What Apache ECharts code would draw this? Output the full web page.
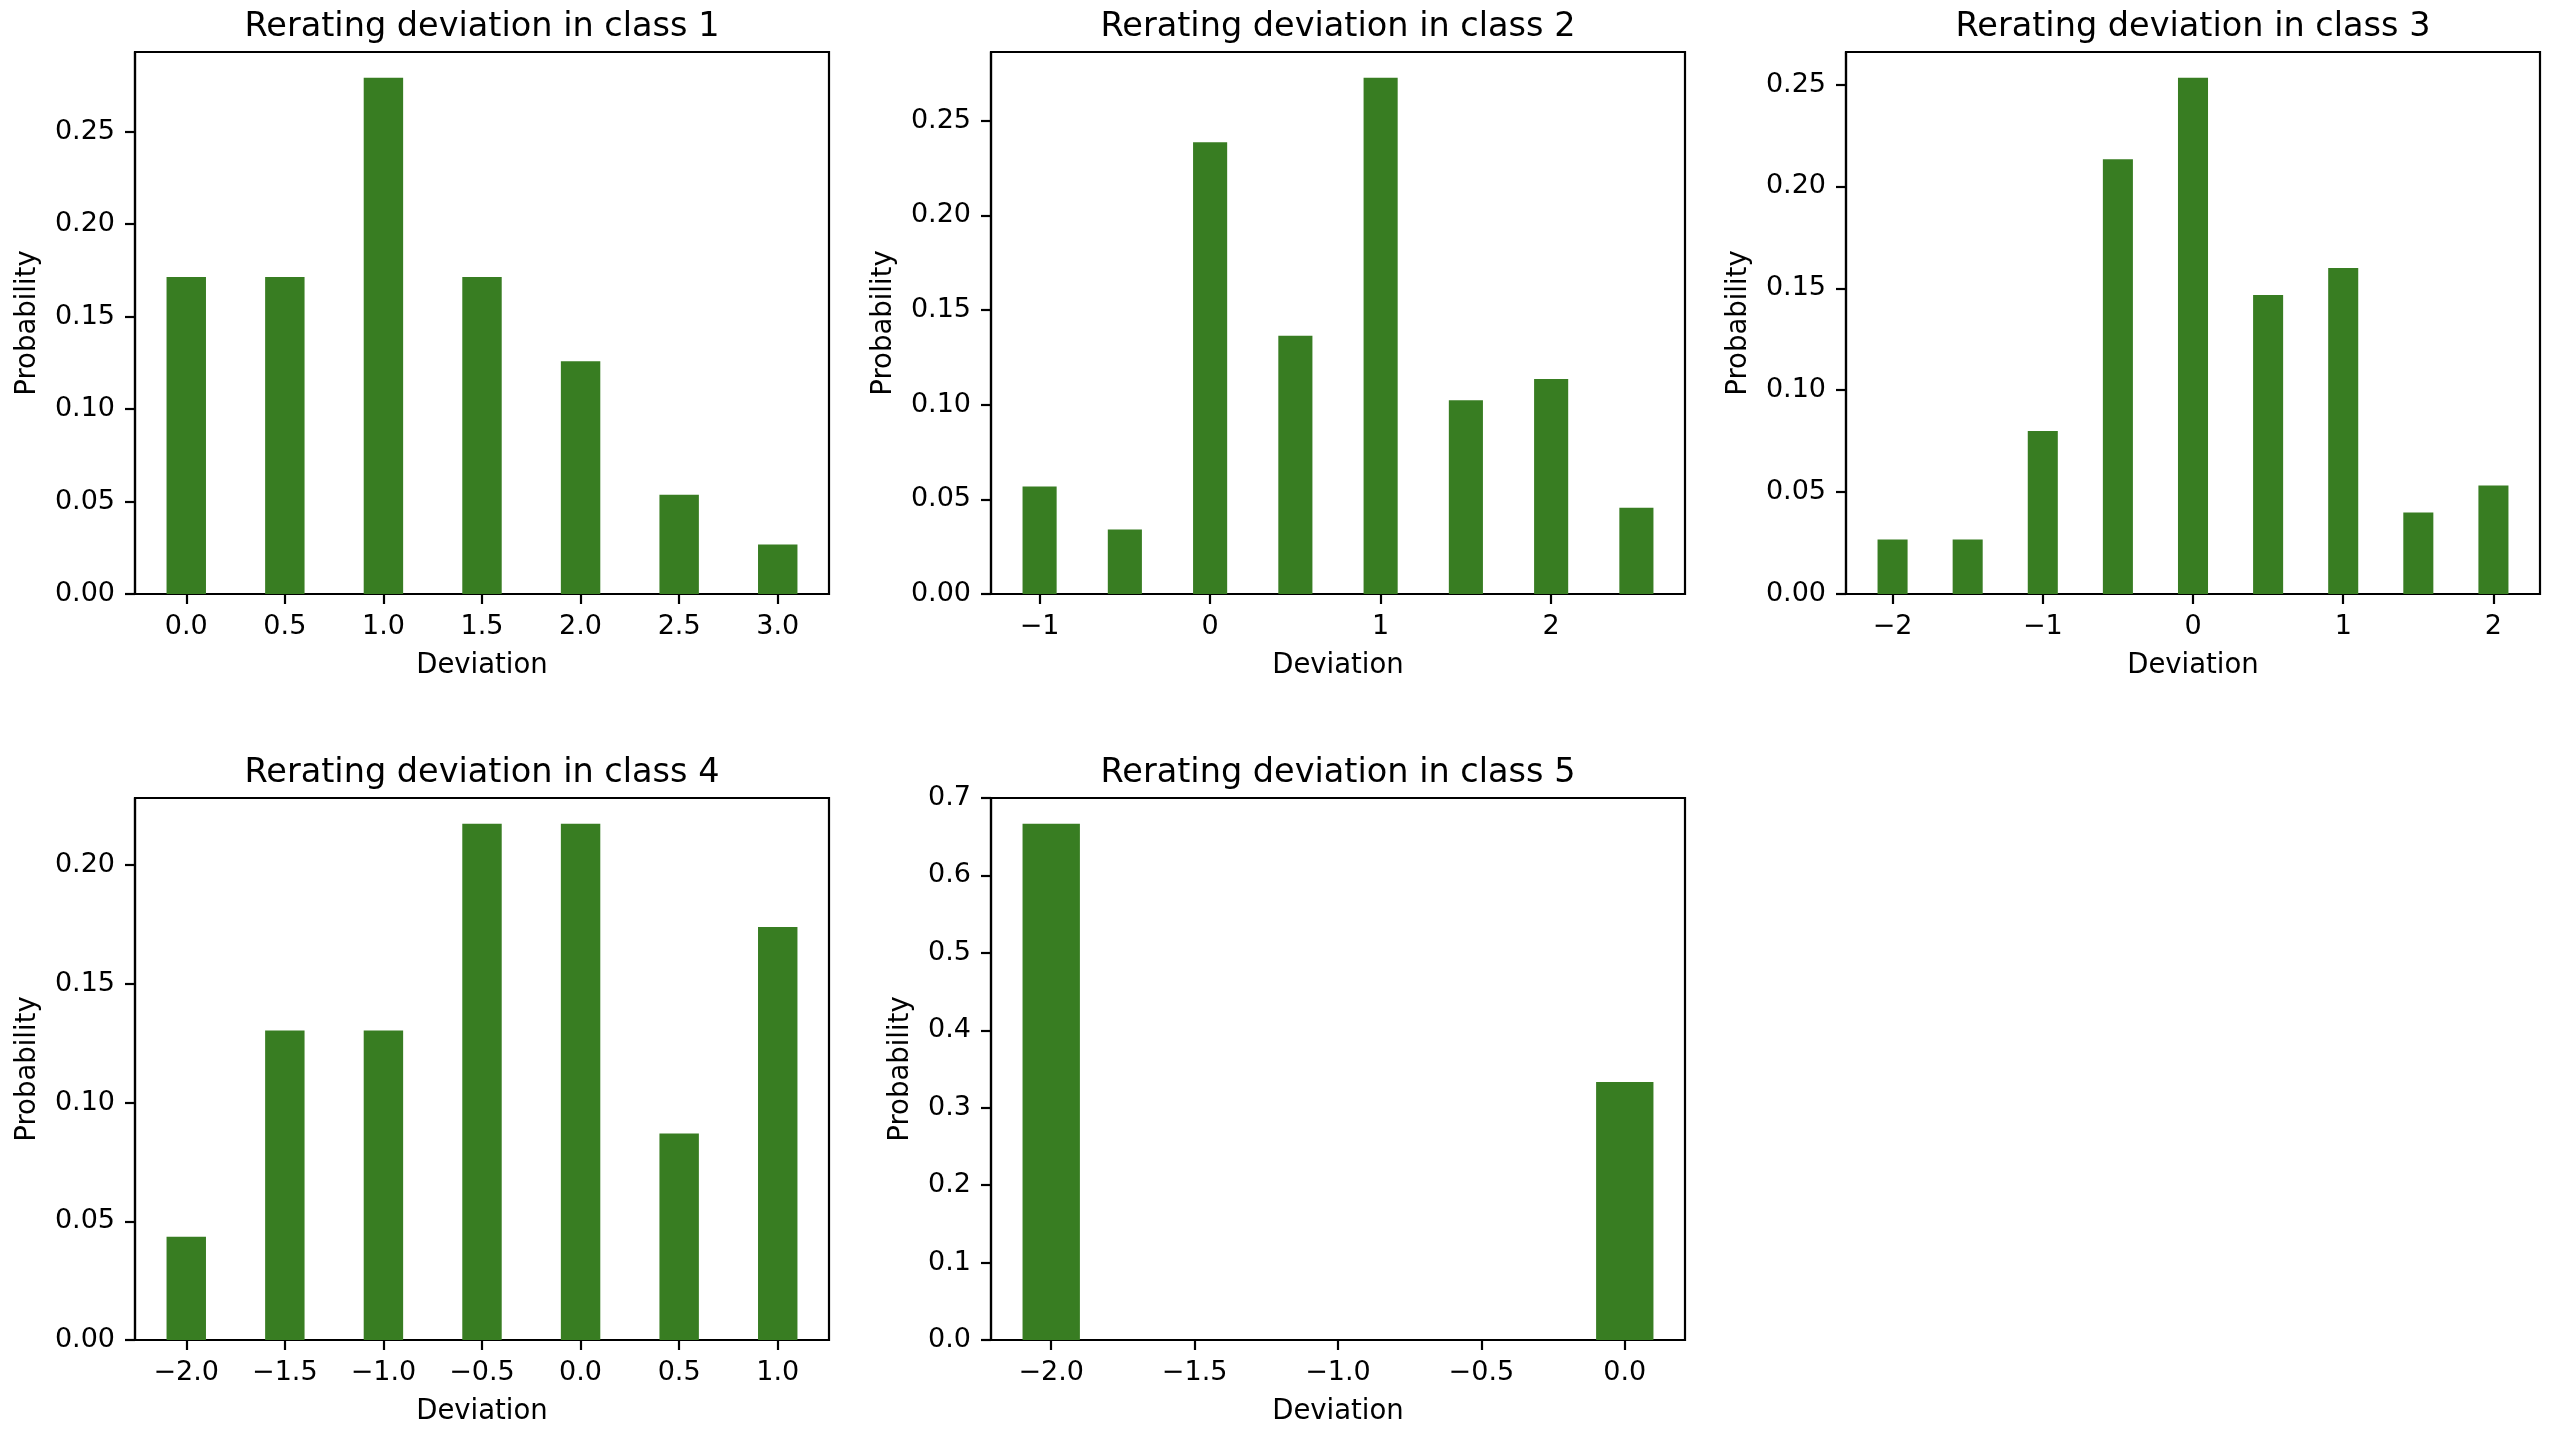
<!DOCTYPE html>
<html>
<head>
<meta charset="utf-8">
<title>Rerating deviation</title>
<script src="https://cdn.jsdelivr.net/npm/echarts@6.0.0/dist/echarts.min.js"></script>
<style>
  html, body { margin: 0; padding: 0; background: #fff; }
  #chart { width: 2560px; height: 1438px; }
</style>
</head>
<body>
<div id="chart"></div>
<script>
// --- data ---
const titles = [
  'Rerating deviation in class 1',
  'Rerating deviation in class 2',
  'Rerating deviation in class 3',
  'Rerating deviation in class 4',
  'Rerating deviation in class 5'
];

const devs1 = [0, 0.5, 1, 1.5, 2, 2.5, 3];
const prob1 = [0.1714, 0.1714, 0.2792, 0.1714, 0.1259, 0.0537, 0.0268];

const devs2 = [-1, -0.5, 0, 0.5, 1, 1.5, 2, 2.5];
const prob2 = [0.0568, 0.0341, 0.2386, 0.1364, 0.2727, 0.1023, 0.1136, 0.0455];

const devs3 = [-2, -1.5, -1, -0.5, 0, 0.5, 1, 1.5, 2];
const prob3 = [0.0267, 0.0267, 0.0800, 0.2133, 0.2533, 0.1467, 0.1600, 0.0400, 0.0533];

const devs4 = [-2, -1.5, -1, -0.5, 0, 0.5, 1];
const prob4 = [0.0435, 0.1304, 0.1304, 0.2174, 0.2174, 0.0870, 0.1739];

const devs5 = [-2, 0];
const prob5 = [0.6667, 0.3333];

// tick labels
const xTicks1 = [0, 0.5, 1, 1.5, 2, 2.5, 3];
const xTicks2 = [-1, 0, 1, 2];
const xTicks3 = [-2, -1, 0, 1, 2];
const xTicks4 = [-2, -1.5, -1, -0.5, 0, 0.5, 1];
const xTicks5 = [-2, -1.5, -1, -0.5, 0];
const yTicks1 = [0, 0.05, 0.10, 0.15, 0.20, 0.25];
const yTicks2 = [0, 0.05, 0.10, 0.15, 0.20, 0.25];
const yTicks3 = [0, 0.05, 0.10, 0.15, 0.20, 0.25];
const yTicks4 = [0, 0.05, 0.10, 0.15, 0.20];
const yTicks5 = [0, 0.1, 0.2, 0.3, 0.4, 0.5, 0.6, 0.7];

// --- styling / layout ---
const BAR_COLOR = '#387d22';
const BAR_W = 0.2;
const FONT = 'DejaVu Sans';
const LINE_W = 2.2;
const GRID_W = 694, GRID_H = 542;

const panels = [
  { devs: devs1, prob: prob1, xt: xTicks1, yt: yTicks1, xDec: 1, yDec: 2, left: 135, top: 52, nameGap: 93 },
  { devs: devs2, prob: prob2, xt: xTicks2, yt: yTicks2, xDec: 0, yDec: 2, left: 991, top: 52, nameGap: 93 },
  { devs: devs3, prob: prob3, xt: xTicks3, yt: yTicks3, xDec: 0, yDec: 2, left: 1846, top: 52, nameGap: 93 },
  { devs: devs4, prob: prob4, xt: xTicks4, yt: yTicks4, xDec: 1, yDec: 2, left: 135, top: 798, nameGap: 93 },
  { devs: devs5, prob: prob5, xt: xTicks5, yt: yTicks5, xDec: 1, yDec: 1, left: 991, top: 798, nameGap: 76 }
];

function fmt(v, d) {
  const s = Math.abs(v).toFixed(d);
  return v < -1e-9 ? '\u2212' + s : s;
}

const grids = [], xAxes = [], yAxes = [], series = [], titleList = [];

panels.forEach((p, i) => {
  // matplotlib-like autoscale: 5% margin around bar extents
  const lo = Math.min(...p.devs) - BAR_W / 2;
  const hi = Math.max(...p.devs) + BAR_W / 2;
  const pad = (hi - lo) * 0.05;
  const yMax = Math.max(...p.prob) * 1.05;

  grids.push({
    left: p.left, top: p.top, width: GRID_W, height: GRID_H,
    show: true, borderColor: '#000', borderWidth: LINE_W,
    backgroundColor: 'transparent',
    outerBoundsMode: 'none'
  });

  titleList.push({
    text: titles[i],
    left: p.left + GRID_W / 2,
    top: p.top - 42,
    textAlign: 'center',
    padding: 0,
    textStyle: { fontFamily: FONT, fontSize: 33.5, fontWeight: 'normal', color: '#000' }
  });

  xAxes.push({
    type: 'value', gridIndex: i,
    min: lo - pad, max: hi + pad,
    name: 'Deviation', nameLocation: 'middle', nameGap: 58,
    nameTextStyle: { fontFamily: FONT, fontSize: 27.5, color: '#000' },
    axisLine: { show: true, onZero: false, lineStyle: { color: '#000', width: LINE_W } },
    axisTick: { show: true, inside: false, length: 10, customValues: p.xt,
                lineStyle: { color: '#000', width: LINE_W } },
    axisLabel: { margin: 19, customValues: p.xt, formatter: v => fmt(v, p.xDec),
                 fontFamily: FONT, fontSize: 27, color: '#000' },
    splitLine: { show: false }
  });

  yAxes.push({
    type: 'value', gridIndex: i,
    min: 0, max: yMax,
    name: 'Probability', nameLocation: 'middle', nameGap: p.nameGap,
    nameTextStyle: { fontFamily: FONT, fontSize: 27.5, color: '#000' },
    axisLine: { show: true, onZero: false, lineStyle: { color: '#000', width: LINE_W } },
    axisTick: { show: true, inside: false, length: 10, customValues: p.yt,
                lineStyle: { color: '#000', width: LINE_W } },
    axisLabel: { margin: 20, customValues: p.yt, formatter: v => fmt(v, p.yDec),
                 fontFamily: FONT, fontSize: 27, color: '#000' },
    splitLine: { show: false }
  });

  series.push({
    type: 'custom',
    xAxisIndex: i, yAxisIndex: i,
    clip: true,
    encode: { x: 0, y: 1 },
    data: p.devs.map((d, k) => [d, p.prob[k]]),
    renderItem: function (params, api) {
      const x = api.value(0), y = api.value(1);
      const a = api.coord([x - BAR_W / 2, y]);
      const b = api.coord([x + BAR_W / 2, 0]);
      return {
        type: 'rect',
        shape: { x: a[0], y: a[1], width: b[0] - a[0], height: b[1] - a[1] },
        style: { fill: BAR_COLOR }
      };
    }
  });
});

const chart = echarts.init(document.getElementById('chart'), null, { renderer: 'canvas' });
chart.setOption({
  backgroundColor: '#fff',
  animation: false,
  title: titleList,
  grid: grids,
  xAxis: xAxes,
  yAxis: yAxes,
  series: series
});
</script>
</body>
</html>
